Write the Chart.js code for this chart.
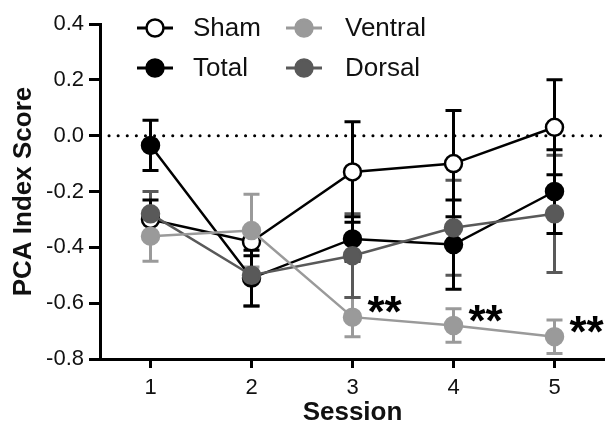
<!DOCTYPE html>
<html>
<head>
<meta charset="utf-8">
<script src="https://cdn.jsdelivr.net/npm/chart.js@4.4.1/dist/chart.umd.min.js"></script>
<style>
  body { margin: 0; background: #fff; }
  #wrap { width: 605px; height: 423px; }
</style>
</head>
<body>
<div id="wrap"><canvas id="pcaChart" width="605" height="423"></canvas></div>
<script>
// Data
const sessions = [1, 2, 3, 4, 5];
const yTicks = [-0.8, -0.6, -0.4, -0.2, 0.0, 0.2, 0.4];

const shamMean = [-0.30, -0.38, -0.13, -0.10, 0.03];
const shamErr = [0.07, 0.05, 0.18, 0.19, 0.17];
const totalMean = [-0.035, -0.51, -0.37, -0.39, -0.20];
const totalErr = [0.09, 0.10, 0.08, 0.16, 0.15];
const ventralMean = [-0.36, -0.34, -0.65, -0.68, -0.72];
const ventralErr = [0.09, 0.13, 0.07, 0.06, 0.06];
const dorsalMean = [-0.28, -0.50, -0.43, -0.33, -0.28];
const dorsalErr = [0.08, 0.11, 0.15, 0.17, 0.21];

const sigSessions = [3, 4, 5]; // "**" next to Ventral

const FONT = "'Liberation Sans', Arial, sans-serif";

const toPts = arr => sessions.map((s, i) => ({ x: s, y: arr[i] }));

function series(label, mean, err, line, fill, border) {
    return {
        label: label,
        data: toPts(mean),
        err: err,
        borderColor: line,
        backgroundColor: fill,
        pointBackgroundColor: fill,
        pointBorderColor: border,
        pointBorderWidth: 2.5,
        pointRadius: 8.5,
        borderWidth: 2.5,
        tension: 0
    };
}

// error bars, under the points
const errorBars = {
    id: 'errorBars',
    beforeDatasetsDraw(chart) {
        const { ctx, scales: { x, y } } = chart;
        ctx.save();
        chart.data.datasets.forEach(ds => {
            ctx.strokeStyle = ds.pointBorderColor;
            ctx.lineWidth = 3;
            ds.data.forEach((p, i) => {
                const px = x.getPixelForValue(p.x);
                const top = y.getPixelForValue(p.y + ds.err[i]);
                const bot = y.getPixelForValue(p.y - ds.err[i]);
                ctx.beginPath();
                ctx.moveTo(px, top); ctx.lineTo(px, bot);
                ctx.moveTo(px - 8, top); ctx.lineTo(px + 8, top);
                ctx.moveTo(px - 8, bot); ctx.lineTo(px + 8, bot);
                ctx.stroke();
            });
        });
        ctx.restore();
    }
};

// dotted zero line
const zeroLine = {
    id: 'zeroLine',
    beforeDatasetsDraw(chart) {
        const { ctx, chartArea, scales: { y } } = chart;
        const py = y.getPixelForValue(0);
        ctx.save();
        ctx.strokeStyle = '#000';
        ctx.lineWidth = 3;
        ctx.lineCap = 'round';
        ctx.setLineDash([0.1, 9]);
        ctx.beginPath();
        ctx.moveTo(chartArea.left + 9, py);
        ctx.lineTo(chartArea.right, py);
        ctx.stroke();
        ctx.restore();
    }
};

// significance stars
const stars = {
    id: 'stars',
    afterDatasetsDraw(chart) {
        const { ctx, scales: { x, y } } = chart;
        ctx.save();
        ctx.fillStyle = '#000';
        ctx.font = 'bold 44px ' + FONT;
        ctx.textAlign = 'left';
        ctx.textBaseline = 'middle';
        sigSessions.forEach(s => {
            const i = sessions.indexOf(s);
            const px = x.getPixelForValue(s) + 15;
            const py = y.getPixelForValue(ventralMean[i]) - 2;
            ctx.fillText('**', px, py);
        });
        ctx.restore();
    }
};

// legend inside the plot, two columns
const innerLegend = {
    id: 'innerLegend',
    afterDraw(chart) {
        const { ctx } = chart;
        const order = ['Sham', 'Total', 'Ventral', 'Dorsal'];
        ctx.save();
        ctx.font = '26px ' + FONT;
        ctx.textBaseline = 'middle';
        ctx.textAlign = 'left';
        order.forEach((name, k) => {
            const ds = chart.data.datasets.find(d => d.label === name);
            const cx = k < 2 ? 155 : 304;
            const cy = k % 2 === 0 ? 28 : 68;
            ctx.strokeStyle = ds.borderColor;
            ctx.lineWidth = 3;
            ctx.beginPath();
            ctx.moveTo(cx - 18, cy); ctx.lineTo(cx + 18, cy);
            ctx.stroke();
            ctx.beginPath();
            ctx.arc(cx, cy, 8.5, 0, Math.PI * 2);
            ctx.fillStyle = ds.pointBackgroundColor;
            ctx.fill();
            ctx.strokeStyle = ds.pointBorderColor;
            ctx.lineWidth = 2.5;
            ctx.stroke();
            ctx.fillStyle = '#111';
            ctx.fillText(name, k < 2 ? 193 : 345, cy + 1);
        });
        ctx.restore();
    }
};

const ctx = document.getElementById('pcaChart').getContext('2d');
new Chart(ctx, {
    type: 'line',
    data: {
        datasets: [
            series('Ventral', ventralMean, ventralErr, '#9a9a9a', '#9a9a9a', '#9a9a9a'),
            series('Dorsal', dorsalMean, dorsalErr, '#595959', '#595959', '#595959'),
            series('Total', totalMean, totalErr, '#000', '#000', '#000'),
            series('Sham', shamMean, shamErr, '#000', '#fff', '#000')
        ]
    },
    options: {
        responsive: false,
        animation: false,
        layout: { autoPadding: false, padding: { top: 24, right: 0, left: 0, bottom: 0 } },
        plugins: { legend: { display: false }, tooltip: { enabled: false } },
        scales: {
            x: {
                type: 'linear',
                min: 0.5,
                max: 5.5,
                afterBuildTicks: s => { s.ticks = sessions.map(v => ({ value: v })); },
                afterFit: s => { s.height = 64; },
                grid: { display: true, drawOnChartArea: false, drawTicks: true, tickLength: 9, color: '#000', lineWidth: 3 },
                border: { color: '#000', width: 3 },
                ticks: { color: '#111', font: { family: FONT, size: 22 }, padding: 7 },
                title: { display: true, text: 'Session', color: '#111', font: { family: FONT, size: 26, weight: 'bold' }, padding: { top: 0, bottom: -5 } }
            },
            y: {
                min: -0.8,
                max: 0.4,
                afterBuildTicks: s => { s.ticks = yTicks.map(v => ({ value: v })); },
                afterFit: s => { s.width = 100; },
                grid: { display: true, drawOnChartArea: false, drawTicks: true, tickLength: 11, color: '#000', lineWidth: 3 },
                border: { color: '#000', width: 3 },
                ticks: { color: '#111', font: { family: FONT, size: 22 }, padding: 5, callback: v => v.toFixed(1) },
                title: { display: true, text: 'PCA Index Score', color: '#111', font: { family: FONT, size: 26, weight: 'bold' }, padding: { top: 8, bottom: 0 } }
            }
        }
    },
    plugins: [zeroLine, errorBars, stars, innerLegend]
});
</script>
</body>
</html>
